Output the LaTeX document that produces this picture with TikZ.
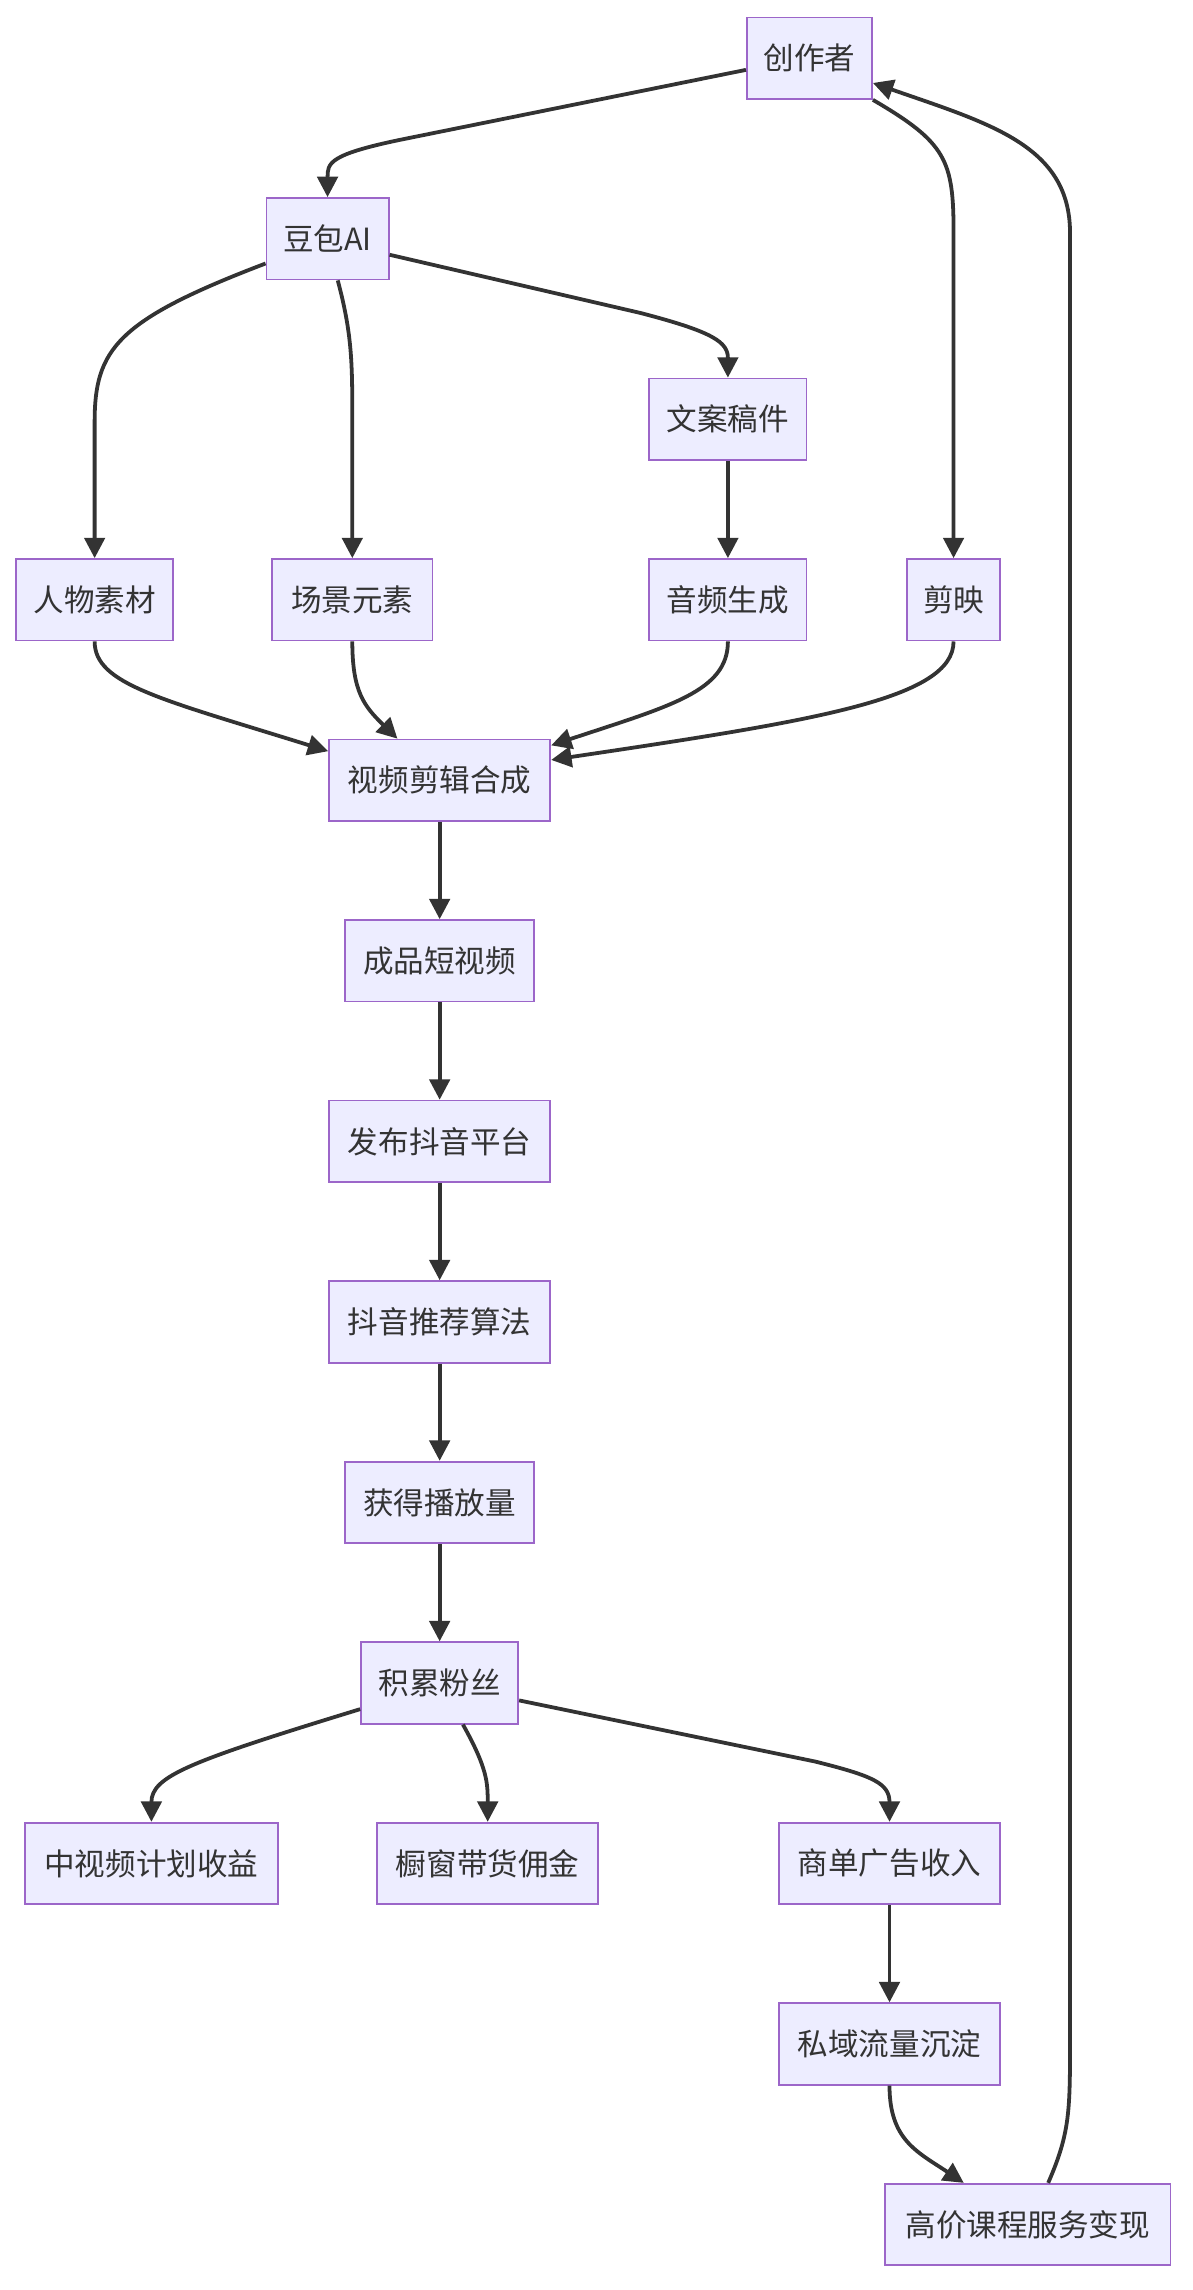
\documentclass[tikz,border=0pt]{standalone}
\usepackage{fontspec}
\setmainfont{Noto Sans CJK SC}
\usetikzlibrary{arrows.meta}
\begin{document}
\begin{tikzpicture}[x=1pt,y=-1pt,
 box/.style={draw=violet!70!blue!60, fill=blue!7, line width=1.2pt, minimum height=56pt, inner xsep=0pt, font=\fontsize{21}{24}\selectfont, text=black!80},
 ar/.style={draw=black!80, line width=2.6pt, -{Triangle[length=14pt,width=14pt]}}]
\useasboundingbox (0,0) rectangle (819,1573);
\node[box,minimum width=86pt] (c) at (556,40) {创作者};
\node[box,minimum width=84pt] (d) at (225,164) {豆包AI};
\node[box,minimum width=108pt] (w) at (500,288) {文案稿件};
\node[box,minimum width=108pt] (r) at (65,412) {人物素材};
\node[box,minimum width=110pt] (s) at (242,412) {场景元素};
\node[box,minimum width=108pt] (y) at (500,412) {音频生成};
\node[box,minimum width=64pt] (j) at (655,412) {剪映};
\node[box,minimum width=152pt] (v) at (302,536) {视频剪辑合成};
\node[box,minimum width=130pt] (p) at (302,660) {成品短视频};
\node[box,minimum width=152pt] (f) at (302,784) {发布抖音平台};
\node[box,minimum width=152pt] (t) at (302,908) {抖音推荐算法};
\node[box,minimum width=130pt] (h) at (302,1032) {获得播放量};
\node[box,minimum width=108pt] (k) at (302,1156) {积累粉丝};
\node[box,minimum width=174pt] (m) at (104,1280) {中视频计划收益};
\node[box,minimum width=152pt] (cc) at (335,1280) {橱窗带货佣金};
\node[box,minimum width=152pt] (sd) at (611,1280) {商单广告收入};
\node[box,minimum width=152pt] (sy) at (611,1404) {私域流量沉淀};
\node[box,minimum width=196pt] (g) at (706,1528) {高价课程服务变现};
\draw[ar] ([yshift=-8pt]c.west) -- (280,95) .. controls (225,106) and (225,112) .. (d.north);
\draw[ar] (c.south east) .. controls (650,98) and (655,110) .. (655,160) -- (j.north);
\draw[ar] ([xshift=14pt]g.north) .. controls (735,1465) and (735,1450) .. (735,1400) -- (735,160) .. controls (735,100) and (680,85) .. ([yshift=-17pt]c.east);
\draw[ar] ([yshift=-17pt]d.west) .. controls (80,220) and (65,240) .. (65,290) -- (r.north);
\draw[ar] ([xshift=7pt]d.south) .. controls (242,230) and (242,250) .. (242,290) -- (s.north);
\draw[ar] ([yshift=-11pt]d.east) -- (440,215) .. controls (490,228) and (500,235) .. (w.north);
\draw[ar] (w) -- (y);
\draw[ar] (r.south) .. controls (65,470) and (110,480) .. ([yshift=20pt]v.west);
\draw[ar] (s.south) .. controls (242,475) and (250,485) .. ([xshift=-29pt]v.north);
\draw[ar] (y.south) .. controls (500,475) and (460,485) .. ([yshift=24pt]v.east);
\draw[ar] (j.south) .. controls (655,480) and (560,495) .. ([yshift=14pt]v.east);
\draw[ar] (v) -- (p);
\draw[ar] (p) -- (f);
\draw[ar] (f) -- (t);
\draw[ar] (t) -- (h);
\draw[ar] (h) -- (k);
\draw[ar] ([yshift=-18pt]k.west) .. controls (130,1210) and (104,1220) .. (m.north);
\draw[ar] ([xshift=16pt]k.south) .. controls (335,1215) and (335,1225) .. (cc.north);
\draw[ar] ([yshift=-12pt]k.east) -- (560,1210) .. controls (600,1220) and (611,1225) .. (sd.north);
\draw[ar] (sd) -- (sy);
\draw[ar] (sy.south) .. controls (611,1470) and (630,1478) .. ([xshift=-44pt]g.north);
\end{tikzpicture}
\end{document}
